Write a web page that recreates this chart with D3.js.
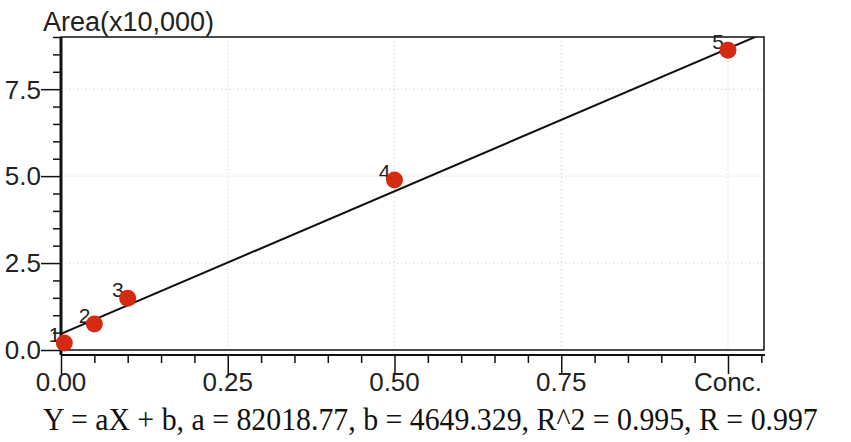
<!DOCTYPE html>
<html>
<head>
<meta charset="utf-8">
<script src="https://cdn.jsdelivr.net/npm/d3@7"></script>
<style>
  body { margin: 0; background: #fff; }
  text { font-family: "Liberation Sans", Arial, sans-serif; fill: #222; }
  .caption { font-family: "Liberation Serif", "Times New Roman", serif; fill: #111; }
</style>
</head>
<body>
<script>
// calibration points (conc, area x10,000)
var conc = [0.005, 0.05, 0.1, 0.5, 1.0];
var area = [0.20, 0.75, 1.49, 4.89, 8.62];
var pointLabels = ["1", "2", "3", "4", "5"];

// regression coefficients (area in x10,000 units)
var slope = 82018.77 / 10000;
var intercept = 4649.329 / 10000;

var xMajorTicks = [0, 0.25, 0.5, 0.75, 1.0];
var xTickLabels = ["0.00", "0.25", "0.50", "0.75", "Conc."];
var yMajorTicks = [0, 2.5, 5, 7.5];
var yTickLabels = ["0.0", "2.5", "5.0", "7.5"];

var svg = d3.select("body").append("svg")
    .attr("width", 851)
    .attr("height", 442);

var margin = { top: 37, right: 87, bottom: 92, left: 61 },
    width = +svg.attr("width") - margin.left - margin.right,
    height = +svg.attr("height") - margin.top - margin.bottom,
    g = svg.append("g").attr("transform", "translate(" + margin.left + "," + margin.top + ")");

var x = d3.scaleLinear().domain([0, 1.054]).range([0, width]);
var y = d3.scaleLinear().domain([0, 9]).range([height, 0]);

// dotted grid
g.append("g").selectAll("line")
    .data(xMajorTicks.slice(1))
    .enter().append("line")
    .attr("x1", x).attr("x2", x)
    .attr("y1", 0).attr("y2", height)
    .attr("stroke", "#c8c8c8")
    .attr("stroke-dasharray", "1,3");

g.append("g").selectAll("line")
    .data(yMajorTicks.slice(1))
    .enter().append("line")
    .attr("x1", 0).attr("x2", width)
    .attr("y1", y).attr("y2", y)
    .attr("stroke", "#c8c8c8")
    .attr("stroke-dasharray", "1,3");

// frame
g.append("rect")
    .attr("width", width)
    .attr("height", height)
    .attr("fill", "none")
    .attr("stroke", "#111")
    .attr("stroke-width", 1.5);

// regression line, clipped to the plot
svg.append("clipPath").attr("id", "clip")
    .append("rect").attr("width", width).attr("height", height);

g.append("line")
    .attr("clip-path", "url(#clip)")
    .attr("x1", x(0)).attr("y1", y(intercept))
    .attr("x2", x(1.054)).attr("y2", y(slope * 1.054 + intercept))
    .attr("stroke", "#111")
    .attr("stroke-width", 2);

// left axis
var yAxis = g.append("g")
    .call(d3.axisLeft(y).tickValues(d3.range(0, 9.01, 0.5)).tickSize(8).tickFormat(""));
yAxis.select(".domain").remove();
yAxis.selectAll(".tick line").attr("stroke", "#111").attr("stroke-width", 1.5)
    .attr("x2", function (d) { return yMajorTicks.indexOf(d) >= 0 ? -20 : -8; });
g.append("line")
    .attr("x1", 0).attr("x2", 0).attr("y1", 0).attr("y2", height + 5)
    .attr("stroke", "#111").attr("stroke-width", 3);

g.append("g").selectAll("text")
    .data(yMajorTicks)
    .enter().append("text")
    .attr("x", -20)
    .attr("y", y)
    .attr("dy", "0.36em")
    .style("text-anchor", "end")
    .style("font-size", "26px")
    .text(function (d, i) { return yTickLabels[i]; });

// bottom axis
var xAxisG = g.append("g")
    .attr("transform", "translate(0," + (height + 5) + ")")
    .call(d3.axisBottom(x).tickValues(d3.range(0, 1.051, 0.05)).tickSize(8).tickFormat(""));
xAxisG.select(".domain").remove();
xAxisG.selectAll(".tick line").attr("stroke", "#111").attr("stroke-width", 1.5)
    .attr("y2", function (d) {
        return xMajorTicks.some(function (t) { return Math.abs(t - d) < 1e-6; }) ? 19 : 8;
    });
g.append("line")
    .attr("x1", 0).attr("x2", width + 1)
    .attr("y1", height + 5).attr("y2", height + 5)
    .attr("stroke", "#111").attr("stroke-width", 2);

g.append("g").selectAll("text")
    .data(xMajorTicks)
    .enter().append("text")
    .attr("x", x)
    .attr("y", height + 41)
    .style("text-anchor", "middle")
    .style("font-size", "26px")
    .text(function (d, i) { return xTickLabels[i]; });

// axis title
svg.append("text")
    .attr("x", 43)
    .attr("y", 31)
    .style("font-size", "27px")
    .text("Area(x10,000)");

// points (labels sit behind the markers)
var pts = g.append("g").selectAll("g")
    .data(conc)
    .enter().append("g")
    .attr("transform", function (d, i) { return "translate(" + x(d) + "," + y(area[i]) + ")"; });

pts.append("text")
    .attr("x", -4)
    .attr("y", -1)
    .style("text-anchor", "end")
    .style("font-size", "21px")
    .text(function (d, i) { return pointLabels[i]; });

pts.append("circle")
    .attr("r", 8.5)
    .attr("fill", "#d42a12");

// regression caption, squeezed horizontally to fit the width
var caption = svg.append("g")
    .append("text")
    .attr("class", "caption")
    .style("font-size", "32px")
    .text("Y = aX + b, a = 82018.77, b = 4649.329, R^2 = 0.995, R = 0.997");
var sx = Math.min(1, 775 / caption.node().getComputedTextLength());
caption.attr("transform", "translate(43,430) scale(" + sx + ",1)");
</script>
</body>
</html>
